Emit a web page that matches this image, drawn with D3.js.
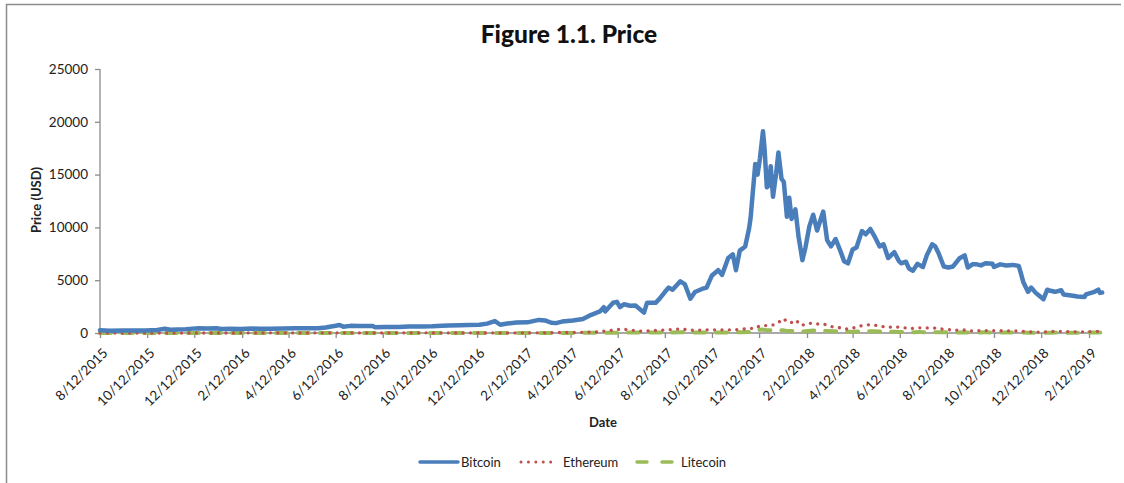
<!DOCTYPE html>
<html>
<head>
<meta charset="utf-8">
<script src="https://cdn.jsdelivr.net/npm/d3@7/dist/d3.min.js"></script>
<style>
  html, body { margin: 0; padding: 0; background: #fff; }
  svg { display: block; }
  text { font-family: Lato, "Open Sans", "DejaVu Sans", sans-serif; fill: #222; }
</style>
</head>
<body>
<svg id="chart" width="1124" height="483"></svg>
<script>
// ---- Data ----
const bitcoinDates = [
 "2015-08-12","2015-08-25","2015-09-10","2015-09-25","2015-10-10","2015-10-25","2015-11-04","2015-11-11",
 "2015-11-20","2015-12-01","2015-12-10","2015-12-18","2015-12-28","2016-01-10","2016-01-16","2016-01-27",
 "2016-02-10","2016-02-25","2016-03-05","2016-03-20","2016-04-05","2016-04-20","2016-05-05","2016-05-20",
 "2016-05-30","2016-06-12","2016-06-17","2016-06-22","2016-07-01","2016-07-15","2016-07-30","2016-08-02",
 "2016-08-15","2016-09-01","2016-09-15","2016-10-01","2016-10-15","2016-10-28","2016-11-05","2016-11-20",
 "2016-12-01","2016-12-15","2016-12-25","2017-01-04","2017-01-11","2017-01-20","2017-02-01","2017-02-15",
 "2017-03-02","2017-03-10","2017-03-18","2017-03-24","2017-04-01","2017-04-15","2017-04-28","2017-05-08",
 "2017-05-20","2017-05-25","2017-05-27","2017-06-06","2017-06-11","2017-06-15","2017-06-20","2017-06-28",
 "2017-07-05","2017-07-16","2017-07-20","2017-07-31","2017-08-05","2017-08-12","2017-08-17","2017-08-22",
 "2017-09-01","2017-09-07","2017-09-14","2017-09-20","2017-09-29","2017-10-05","2017-10-12","2017-10-20",
 "2017-10-25","2017-11-02","2017-11-08","2017-11-12","2017-11-17","2017-11-24","2017-11-29","2017-12-01",
 "2017-12-07","2017-12-10","2017-12-13","2017-12-17","2017-12-19","2017-12-22","2017-12-25","2017-12-27",
 "2017-12-30","2018-01-03","2018-01-06","2018-01-10","2018-01-13","2018-01-17","2018-01-20","2018-01-23",
 "2018-01-28","2018-02-01","2018-02-06","2018-02-10","2018-02-15","2018-02-20","2018-02-25","2018-03-05",
 "2018-03-10","2018-03-15","2018-03-21","2018-03-27","2018-04-01","2018-04-06","2018-04-12","2018-04-17",
 "2018-04-24","2018-04-29","2018-05-05","2018-05-10","2018-05-17","2018-05-22","2018-05-28","2018-06-05",
 "2018-06-11","2018-06-14","2018-06-20","2018-06-24","2018-06-29","2018-07-05","2018-07-12","2018-07-17",
 "2018-07-24","2018-07-28","2018-08-01","2018-08-08","2018-08-14","2018-08-20","2018-08-28","2018-09-04",
 "2018-09-08","2018-09-14","2018-09-20","2018-09-25","2018-10-01","2018-10-10","2018-10-12","2018-10-20",
 "2018-10-28","2018-11-05","2018-11-13","2018-11-16","2018-11-19","2018-11-25","2018-11-29","2018-12-05",
 "2018-12-10","2018-12-15","2018-12-20","2018-12-24","2018-12-30","2019-01-07","2019-01-10","2019-01-20",
 "2019-01-28","2019-02-06","2019-02-08","2019-02-19","2019-02-24","2019-02-26","2019-03-01"
];
const bitcoin = [
 265,220,240,235,245,285,400,310,
 325,360,415,460,425,448,380,395,
 378,425,400,410,422,440,447,443,
 530,680,760,600,675,665,655,545,
 570,575,608,615,640,690,705,730,
 755,780,890,1130,780,895,985,1010,
 1240,1190,970,935,1080,1180,1320,1700,
 2040,2450,2050,2860,2950,2450,2720,2580,
 2600,1930,2870,2860,3230,3880,4300,4090,
 4900,4600,3250,3880,4170,4300,5450,5950,
 5500,7100,7450,5950,7800,8200,9900,10900,
 16000,15000,16500,19100,17500,13800,14000,15800,
 12900,15100,17100,14600,14300,11000,12800,10800,
 11700,9150,6900,8100,10100,11200,9700,11500,
 8800,8200,8900,7800,6800,6600,7900,8100,
 9650,9350,9850,9200,8200,8400,7100,7650,
 6800,6600,6750,6100,5900,6550,6250,7350,
 8400,8200,7600,6300,6200,6300,7050,7350,
 6200,6500,6500,6400,6600,6550,6250,6500,
 6400,6450,6350,5600,4800,3900,4300,3800,
 3500,3200,4100,4000,3900,4050,3650,3550,
 3450,3400,3650,3900,4100,3800,3830
];
const altDates = [
 "2015-08-12","2015-09-01","2015-09-15","2015-10-01","2015-10-15","2015-11-01","2015-11-05","2015-11-12",
 "2015-12-01","2015-12-15","2016-01-01","2016-01-15","2016-02-01","2016-02-15","2016-03-01","2016-03-15",
 "2016-04-01","2016-04-15","2016-05-01","2016-05-15","2016-06-01","2016-06-17","2016-07-01","2016-07-15",
 "2016-08-01","2016-08-15","2016-09-01","2016-09-15","2016-10-01","2016-10-15","2016-11-01","2016-11-15",
 "2016-12-01","2016-12-15","2017-01-01","2017-01-05","2017-01-12","2017-02-01","2017-02-15","2017-03-01",
 "2017-03-10","2017-03-24","2017-04-01","2017-04-15","2017-05-01","2017-05-15","2017-05-25","2017-06-01",
 "2017-06-11","2017-06-20","2017-07-01","2017-07-16","2017-07-25","2017-08-05","2017-08-15","2017-09-01",
 "2017-09-15","2017-09-25","2017-10-10","2017-10-20","2017-11-05","2017-11-12","2017-11-19","2017-11-29",
 "2017-12-07","2017-12-12","2017-12-17","2017-12-22","2017-12-27","2018-01-01","2018-01-06","2018-01-13",
 "2018-01-17","2018-01-23","2018-01-28","2018-02-05","2018-02-10","2018-02-20","2018-02-25","2018-03-05",
 "2018-03-12","2018-03-18","2018-03-25","2018-04-01","2018-04-06","2018-04-14","2018-04-24","2018-05-05",
 "2018-05-10","2018-05-17","2018-05-28","2018-06-05","2018-06-14","2018-06-27","2018-07-08","2018-07-16",
 "2018-07-24","2018-08-01","2018-08-10","2018-08-20","2018-09-04","2018-09-08","2018-09-20","2018-10-01",
 "2018-10-15","2018-11-01","2018-11-13","2018-11-19","2018-11-25","2018-12-07","2018-12-15","2018-12-24",
 "2019-01-07","2019-01-20","2019-01-31","2019-02-08","2019-02-19","2019-02-24","2019-03-01"
];
const ethereum = [
 1.2,1.35,0.95,0.7,0.55,1.05,0.9,0.9,
 0.87,0.85,0.95,1.2,2.2,5.2,7.6,12.9,
 11.4,8.4,8.8,12.6,14,15.5,12.5,11.5,
 10.5,11.2,12,12.3,13.2,11.9,10.9,10,
 8.3,7.8,8.2,10.3,9.8,10.8,12.9,16.1,
 19,42,50,48,77,90,175,220,
 340,350,260,155,225,250,295,390,
 255,280,300,305,296,307,350,430,
 430,650,700,700,760,770,1000,1370,
 1020,1000,1240,700,860,940,850,860,
 700,550,520,380,375,500,700,780,
 740,660,520,600,520,430,490,480,
 480,420,335,280,285,200,225,230,
 220,200,183,150,110,90,85,145,
 150,120,107,118,145,160,136
];
const litecoin = [
 4.2,3,2.9,3,3.1,3.9,4,3.3,
 3.4,3.8,3.5,3.1,3.4,3.3,3.3,3.2,
 3.4,3.5,3.7,4.2,4.8,4.9,4.2,4.2,
 4.1,3.7,3.8,3.9,3.9,3.85,4,3.9,
 3.9,4.3,4.5,4.2,3.7,3.8,3.8,3.8,
 3.9,4,7.5,9.3,15,25,28,27,
 32,47,41,40,42,46,44,75,
 52,53,51,57,54,60,72,90,
 110,300,320,260,270,230,285,250,
 190,190,180,120,155,230,215,210,
 185,155,165,115,115,130,155,165,
 155,135,117,125,100,77,84,82,
 86,78,62,56,62,54,57,60,
 56,51,47,37,31,23,24,34,
 37,31,33,40,48,50,47
];
const seriesNames = ["Bitcoin", "Ethereum", "Litecoin"];
const yTicks = [0, 5000, 10000, 15000, 20000, 25000];
const xTickDates = [
 "2015-08-12","2015-10-12","2015-12-12","2016-02-12","2016-04-12","2016-06-12","2016-08-12","2016-10-12",
 "2016-12-12","2017-02-12","2017-04-12","2017-06-12","2017-08-12","2017-10-12","2017-12-12","2018-02-12",
 "2018-04-12","2018-06-12","2018-08-12","2018-10-12","2018-12-12","2019-02-12"
];

// ---- Layout ----
const svg = d3.select("#chart");
const W = 1124, H = 483;
const plot = { left: 100, top: 69, bottom: 333 };
const parse = d3.utcParse("%Y-%m-%d");
const fmt = d => (d.getUTCMonth() + 1) + "/" + d.getUTCDate() + "/" + d.getUTCFullYear();
const font = "Lato, 'Open Sans', sans-serif";

// Outer frame (top and left edges visible in the reference)
svg.append("path")
  .attr("d", `M6.5,${H} L6.5,4.5 L1121,4.5`)
  .attr("fill", "none").attr("stroke", "#8c8c8c").attr("stroke-width", 1.5);

const d0 = parse("2015-08-12"), d1 = parse("2019-03-01");
const x = d3.scaleUtc().domain([d0, d1])
  .range([plot.left, plot.left + (d1 - d0) / 864e5 * 0.7727]);
const y = d3.scaleLinear().domain([0, 25000]).range([plot.bottom, plot.top]);

// Title
svg.append("text").attr("x", 569).attr("y", 43).attr("text-anchor", "middle")
  .style("font-size", "24.5px").style("font-weight", "900").style("fill", "#111")
  .text("Figure 1.1. Price");

// Y axis
const yAxis = d3.axisLeft(y).tickValues(yTicks).tickSize(5).tickPadding(7).tickFormat(d3.format("d"));
const gy = svg.append("g").attr("transform", `translate(${plot.left},0)`).call(yAxis);
gy.select(".domain").attr("stroke", "#8c8c8c").attr("stroke-width", 1.3).attr("d", `M0,${y(25000)}V${y(0)}`);
gy.selectAll(".tick line").attr("stroke", "#8c8c8c").attr("stroke-width", 1.3);
gy.selectAll(".tick text").style("font-size", "13.5px").style("fill", "#222").style("font-family", font);

// X axis
const xAxis = d3.axisBottom(x).tickValues(xTickDates.map(parse)).tickSize(5).tickFormat(fmt);
const gx = svg.append("g").attr("transform", `translate(0,${plot.bottom})`).call(xAxis);
gx.select(".domain").attr("stroke", "#8c8c8c").attr("stroke-width", 1.3)
  .attr("d", `M${plot.left},0H${x(d1)}`);
gx.selectAll(".tick line").attr("stroke", "#8c8c8c").attr("stroke-width", 1.3);
gx.selectAll(".tick text")
  .style("font-size", "13.5px").style("fill", "#222").style("font-family", font)
  .attr("text-anchor", "end").attr("dy", null).attr("y", 0)
  .attr("transform", "translate(8,21) rotate(-45)");

// Axis titles
svg.append("text").attr("transform", "translate(41,200) rotate(-90)").attr("text-anchor", "middle")
  .style("font-size", "13px").style("font-weight", "bold").text("Price (USD)");
svg.append("text").attr("x", 603).attr("y", 427).attr("text-anchor", "middle")
  .style("font-size", "13px").style("font-weight", "bold").text("Date");

// Lines
const styles = {
  Bitcoin:  { color: "#4a7ebb", width: 4.5, dash: null },
  Ethereum: { color: "#c0504d", width: 3.3, dash: "0.01,7.4" },
  Litecoin: { color: "#9bbb59", width: 4, dash: "11,11" }
};
const seriesData = {
  Bitcoin:  bitcoinDates.map((d, i) => [parse(d), bitcoin[i]]),
  Ethereum: altDates.map((d, i) => [parse(d), ethereum[i]]),
  Litecoin: altDates.map((d, i) => [parse(d), litecoin[i]])
};
const line = d3.line().x(d => x(d[0])).y(d => y(d[1])).curve(d3.curveLinear);

["Litecoin", "Ethereum", "Bitcoin"].forEach(name => {
  const s = styles[name];
  svg.append("path").datum(seriesData[name]).attr("d", line)
    .attr("fill", "none").attr("stroke", s.color).attr("stroke-width", s.width)
    .attr("stroke-linejoin", "round").attr("stroke-linecap", "round")
    .attr("stroke-dasharray", s.dash);
});

// Legend
const legendPos = [
  { x0: 420, x1: 458, tx: 461, dash: null, w: 3.5 },
  { x0: 521, x1: 558, tx: 563, dash: "0.01,7.4", w: 3 },
  { x0: 637, x1: 676, tx: 681, dash: "10,15", w: 3.5 }
];
const lg = svg.append("g");
seriesNames.forEach((name, i) => {
  const s = styles[name], p = legendPos[i];
  lg.append("line").attr("x1", p.x0).attr("x2", p.x1).attr("y1", 462).attr("y2", 462)
    .attr("stroke", s.color).attr("stroke-width", p.w)
    .attr("stroke-linecap", "round").attr("stroke-dasharray", p.dash);
  lg.append("text").attr("x", p.tx).attr("y", 466.5).style("font-size", "13px").text(name);
});
</script>
</body>
</html>
